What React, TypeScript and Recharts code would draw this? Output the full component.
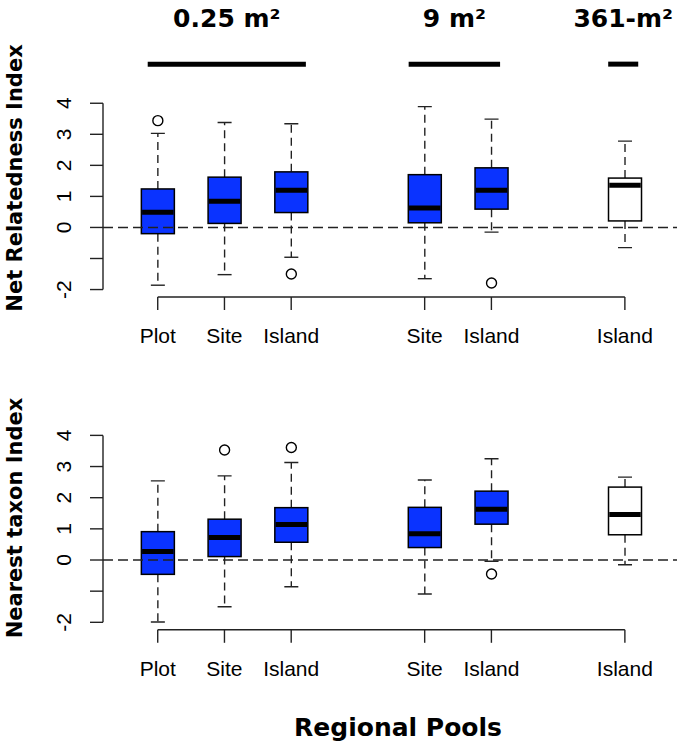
import React from 'react';
import { ComposedChart, Bar, XAxis, YAxis, ReferenceLine } from 'recharts';

// ---- categories / ticks ----
const positions = [1, 2, 3, 5, 6, 8];
const poolLabels = ['Plot', 'Site', 'Island', 'Site', 'Island', 'Island'];
const boxFills = ['#0A33FF', '#0A33FF', '#0A33FF', '#0A33FF', '#0A33FF', '#FFFFFF'];
const yTicks = [-2, -1, 0, 1, 2, 3, 4];
const hiddenYTickLabels = [-1];

// ---- Net Relatedness Index ----
const nriLow = [-1.86, -1.52, -0.96, -1.65, -0.15, -0.65];
const nriQ1 = [-0.2, 0.13, 0.48, 0.15, 0.59, 0.21];
const nriMedian = [0.49, 0.84, 1.2, 0.63, 1.2, 1.36];
const nriQ3 = [1.24, 1.62, 1.79, 1.7, 1.92, 1.59];
const nriHigh = [3.03, 3.38, 3.34, 3.89, 3.49, 2.78];
const nriOutliers = [[3.44], [], [-1.5], [], [-1.79], []];

// ---- Nearest taxon Index ----
const ntiLow = [-1.99, -1.5, -0.86, -1.09, -0.04, -0.15];
const ntiQ1 = [-0.46, 0.11, 0.57, 0.4, 1.15, 0.81];
const ntiMedian = [0.27, 0.72, 1.14, 0.84, 1.63, 1.46];
const ntiQ3 = [0.91, 1.31, 1.68, 1.69, 2.21, 2.34];
const ntiHigh = [2.54, 2.7, 3.13, 2.57, 3.25, 2.66];
const ntiOutliers = [[], [3.53], [3.61], [], [-0.45], []];

// ---- plot-scale group headers ----
const scaleGroups = ['0.25 m²', '9 m²', '361-m²'];
const groupStart = [0.85, 4.76, 7.75];
const groupEnd = [3.22, 6.13, 8.2];
const groupBarLevel = 5.26;

const xDomain = [0.18, 8.82];
const yDomain = [-2.24, 4.24];

const AXIS = '#222';

const build = (lo: number[], q1: number[], med: number[], q3: number[], hi: number[], out: number[][]) =>
  positions.map((p, i) => ({
    x: p,
    box: [q1[i], q3[i]],
    lo: lo[i],
    q1: q1[i],
    med: med[i],
    q3: q3[i],
    hi: hi[i],
    outliers: out[i],
    fill: boxFills[i],
  }));

const nriData = build(nriLow, nriQ1, nriMedian, nriQ3, nriHigh, nriOutliers);
const ntiData = build(ntiLow, ntiQ1, ntiMedian, ntiQ3, ntiHigh, ntiOutliers);

const BoxShape = (props: any) => {
  const { x, y, width, height, payload } = props;
  if (!payload || x == null || y == null) return null;
  const top = Math.min(y, y + height);
  const h = Math.abs(height);
  const { q1, q3, med, lo, hi, outliers, fill } = payload;
  const ppu = h / (q3 - q1);
  const py = (v: number) => top + (q3 - v) * ppu;
  const cx = x + width / 2;
  const cap = 14;
  return (
    <g>
      <line x1={cx} x2={cx} y1={py(q3)} y2={py(hi)} stroke={AXIS} strokeWidth={1.4} strokeDasharray="8 5" />
      <line x1={cx} x2={cx} y1={py(q1)} y2={py(lo)} stroke={AXIS} strokeWidth={1.4} strokeDasharray="8 5" />
      <line x1={cx - cap / 2} x2={cx + cap / 2} y1={py(hi)} y2={py(hi)} stroke={AXIS} strokeWidth={1.4} />
      <line x1={cx - cap / 2} x2={cx + cap / 2} y1={py(lo)} y2={py(lo)} stroke={AXIS} strokeWidth={1.4} />
      <rect x={x} y={top} width={width} height={h} fill={fill} stroke="#000" strokeWidth={1.5} />
      <line x1={x + 0.75} x2={x + width - 0.75} y1={py(med)} y2={py(med)} stroke="#000" strokeWidth={5} />
      {outliers.map((o: number, k: number) => (
        <circle key={k} cx={cx} cy={py(o)} r={5} fill="none" stroke="#000" strokeWidth={1.4} />
      ))}
    </g>
  );
};

const XTick = (props: any) => {
  const { x, y, payload } = props;
  const idx = positions.indexOf(payload.value);
  const label = idx >= 0 ? poolLabels[idx] : '';
  return (
    <text x={x} y={y} dy="0.71em" textAnchor="middle" fontSize={21} fill="#000"
      fontFamily='"Liberation Sans", Arial, sans-serif'>
      {label}
    </text>
  );
};

const YTick = (props: any) => {
  const { x, y, payload } = props;
  if (hiddenYTickLabels.includes(payload.value)) return <g />;
  const tx = x - 26;
  return (
    <text x={tx} y={y} textAnchor="middle" dominantBaseline="central" fontSize={21} fill="#000"
      fontFamily='"Liberation Sans", Arial, sans-serif' transform={`rotate(-90, ${tx}, ${y})`}>
      {payload.value}
    </text>
  );
};

const YTitle = (props: any) => {
  const { text, cy } = props;
  return (
    <text x={15} y={cy} textAnchor="middle" dominantBaseline="central" fontSize={21} fontWeight="bold"
      fill="#000" fontFamily='"DejaVu Sans", Verdana, sans-serif' transform={`rotate(-90, 15, ${cy})`}>
      {text}
    </text>
  );
};

const BottomTitle = (props: any) => (
  <text x={398} y={386} textAnchor="middle" fontSize={25} fontWeight="bold" fill="#000"
    fontFamily='"DejaVu Sans", Verdana, sans-serif'>
    {props.text}
  </text>
);

type PanelProps = {
  data: any[];
  height: number;
  top: number;
  bottom: number;
  title: string;
  titleY: number;
  headers?: boolean;
  footer?: string;
};

const Panel = ({ data, height, top, bottom, title, titleY, headers, footer }: PanelProps) => (
  <ComposedChart width={690} height={height} data={data}
    margin={{ top, right: 10.4, bottom, left: 0 }}>
    <XAxis type="number" dataKey="x" domain={xDomain} ticks={positions} allowDataOverflow interval={0}
      tick={<XTick />} tickSize={13} tickMargin={18} axisLine={false}
      tickLine={{ stroke: AXIS, strokeWidth: 1.4 }} height={40}
      label={footer ? <BottomTitle text={footer} /> : undefined} />
    <YAxis type="number" domain={yDomain} ticks={yTicks} allowDataOverflow interval={0} width={103}
      tick={<YTick />} tickSize={13} tickMargin={0} axisLine={false}
      tickLine={{ stroke: AXIS, strokeWidth: 1.4 }}
      label={<YTitle text={title} cy={titleY} />} />
    <Bar dataKey="box" barSize={33} shape={BoxShape} isAnimationActive={false} />
    <ReferenceLine y={0} stroke={AXIS} strokeWidth={1.4} strokeDasharray="10 5" />
    <ReferenceLine segment={[{ x: xDomain[0], y: -2 }, { x: xDomain[0], y: 4 }]}
      stroke={AXIS} strokeWidth={1.4} ifOverflow="visible" />
    <ReferenceLine segment={[{ x: positions[0], y: yDomain[0] }, { x: positions[positions.length - 1], y: yDomain[0] }]}
      stroke={AXIS} strokeWidth={1.4} ifOverflow="visible" />
    {headers && scaleGroups.map((g, i) => (
      <ReferenceLine key={g}
        segment={[{ x: groupStart[i], y: groupBarLevel }, { x: groupEnd[i], y: groupBarLevel }]}
        stroke="#000" strokeWidth={5} ifOverflow="visible"
        label={{ value: g, position: 'top', offset: 37, fontSize: 25, fontWeight: 'bold',
          fill: '#000', fontFamily: '"DejaVu Sans", Verdana, sans-serif' }} />
    ))}
  </ComposedChart>
);

export default function App() {
  return (
    <div style={{ position: 'absolute', left: 0, top: 0, width: 677, height: 746, overflow: 'hidden',
      background: '#fff', fontFamily: '"Liberation Sans", Arial, sans-serif' }}>
      <div style={{ position: 'absolute', left: 0, top: 0 }}>
        <Panel data={nriData} height={350} top={95.8} bottom={13} title="Net Relatedness Index"
          titleY={178} headers />
      </div>
      <div style={{ position: 'absolute', left: 0, top: 350 }}>
        <Panel data={ntiData} height={396} top={77.9} bottom={76.2} title="Nearest taxon Index"
          titleY={168} footer="Regional Pools" />
      </div>
    </div>
  );
}
